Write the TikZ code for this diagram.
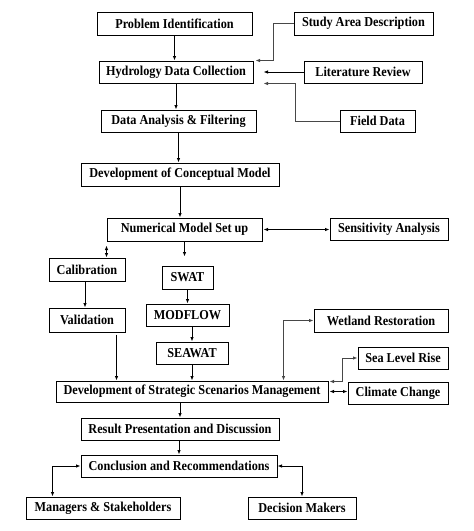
\documentclass[tikz,border=0pt]{standalone}
\usepackage{fontspec}
\setmainfont{Liberation Serif}[FakeStretch=0.9]
\usetikzlibrary{arrows.meta,calc}
\begin{document}
\begin{tikzpicture}[x=1pt,y=-1pt,
  box/.style={draw=black,line width=1pt,inner sep=0pt,align=center,
    font=\fontsize{13.6}{15}\selectfont\bfseries},
  arr/.style={line width=1pt,-{Latex[length=4.5pt,width=3.5pt]}},
  darr/.style={line width=1pt,{Latex[length=4.5pt,width=3.5pt]}-{Latex[length=4.5pt,width=3.5pt]}},
  garr/.style={arr,draw=black!72},
  gdarr/.style={darr,draw=black!72}]
\useasboundingbox (0,0) rectangle (474,531);
\newcommand{\bx}[6]{\node[box,minimum width=#4pt,minimum height=#5pt] (#1) at (#2,#3) {#6};}
\bx{prob}{174.5}{23.5}{155}{23}{Problem Identification}
\bx{study}{363.5}{23.5}{139}{23}{Study Area Description}
\bx{hydro}{176}{72}{154}{22}{Hydrology Data Collection}
\bx{lit}{363}{72}{118}{22}{Literature Review}
\bx{data}{178.5}{121}{155}{22}{Data Analysis \& Filtering}
\bx{field}{377.5}{121}{75}{22}{Field Data}
\bx{concept}{180}{174.5}{198}{23}{Development of Conceptual Model}
\bx{num}{184.5}{229.5}{155}{23}{Numerical Model Set up}
\bx{sens}{389}{229}{118}{22}{Sensitivity Analysis}
\bx{calib}{87}{269.5}{76}{23}{Calibration}
\bx{swat}{187.5}{277.5}{51}{23}{SWAT}
\bx{valid}{87}{320}{76}{24}{Validation}
\bx{modflow}{187.5}{315}{83}{22}{MODFLOW}
\bx{seawat}{192}{353}{72}{22}{SEAWAT}
\bx{wet}{381}{320.5}{134}{23}{Wetland Restoration}
\bx{sea}{403}{358}{90}{22}{Sea Level Rise}
\bx{strat}{192}{391.5}{272}{21}{Development of Strategic Scenarios Management}
\bx{climate}{398}{393}{100}{22}{Climate Change}
\bx{result}{180}{429}{198}{22}{Result Presentation and Discussion}
\bx{concl}{179}{466}{196}{22}{Conclusion and Recommendations}
\bx{man}{103}{508}{154}{22}{Managers \& Stakeholders}
\bx{dec}{302}{508}{108}{22}{Decision Makers}
% connectors
\draw[arr] (prob.south) -- (prob.south |- hydro.north);
\draw[garr] (study.west) -- ++(-20,0) |- ([xshift=2pt]hydro.north east);
\draw[arr] (lit.west) -- ([xshift=10pt]hydro.east);
\draw[garr] (field.west) -- ++(-44,0) |- ([xshift=10pt]hydro.south east);
\draw[arr] (hydro.south) -- (hydro.south |- data.north);
\draw[arr] (data.south) -- (data.south |- concept.north);
\draw[arr] (concept.south) -- (concept.south |- num.north);
\draw[darr] ([xshift=1pt]num.east) -- (num.east -| sens.west);
\draw[darr] ([yshift=-4pt]num.south west) -- (num.south west |- calib.north);
\draw[arr,shorten >=9pt] (num.south) -- (num.south |- swat.north);
\draw[arr] ([xshift=-2pt]calib.south) -- ([xshift=-2pt]calib.south |- valid.north);
\draw[arr] (swat.south) -- (swat.south |- modflow.north);
\draw[arr] (seawat.north |- modflow.south) -- (seawat.north);
\draw[arr] ([xshift=-9pt,yshift=-2pt]valid.south east) -- ([xshift=-9pt]valid.south east |- strat.north);
\draw[arr] (seawat.south) -- (seawat.south |- strat.north);
\draw[gdarr] (wet.west) -| ([xshift=-45pt]strat.north east);
\draw[gdarr] (sea.west) -- ++(-15,0) |- ([xshift=1pt,yshift=-1pt]strat.north east);
\draw[darr] ([xshift=1pt]strat.east) -- (strat.east -| climate.west);
\draw[arr] (result.north |- strat.south) -- (result.north);
\draw[arr] (concl.north |- result.south) -- (concl.north);
\draw[darr] (concl.west) -| ([xshift=27pt]man.north west);
\draw[darr] (concl.east) -| (dec.north);
\end{tikzpicture}
\end{document}
